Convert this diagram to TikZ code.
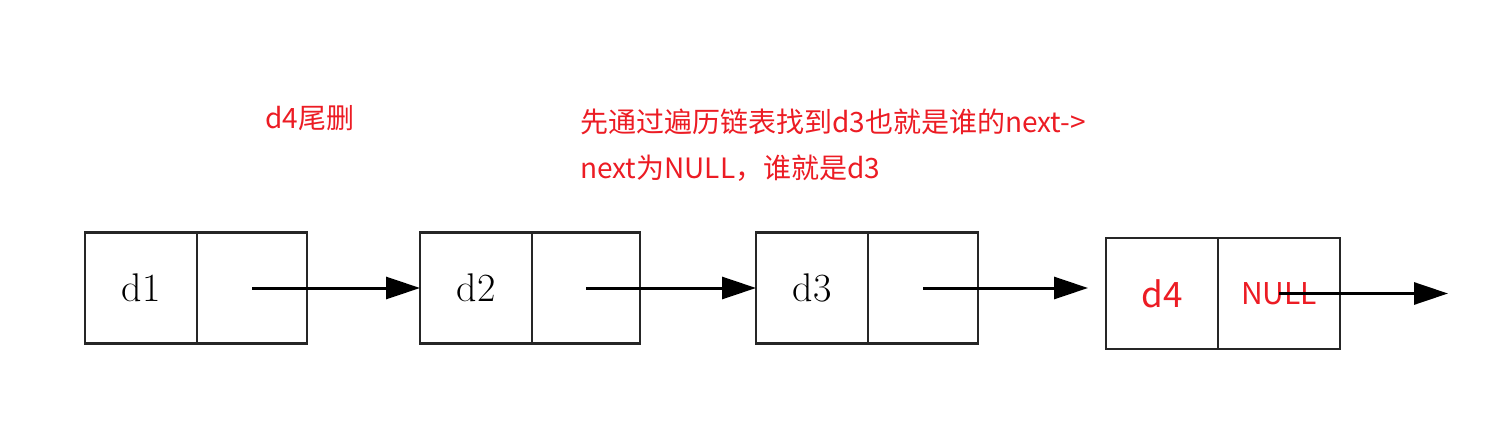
\documentclass[tikz,border=0pt]{standalone}
\usepackage{fontspec}
\newfontfamily\cjk{Noto Sans CJK SC}
\usetikzlibrary{arrows.meta,positioning}
\definecolor{notered}{RGB}{236,28,36}

\begin{document}
\begin{tikzpicture}[x=0.5pt,y=-0.5pt,>={Triangle[length=17pt,width=11pt]},
  field/.style={draw=black!85,line width=1.4pt,minimum height=55.5pt,outer sep=0pt,inner sep=0pt},
  datafield/.style={field,minimum width=56pt,font=\fontsize{20}{24}\selectfont},
  nextfield/.style={field,minimum width=55pt},
  note/.style={text=notered,font=\cjk\fontsize{14}{23}\selectfont,inner sep=0pt,anchor=west,align=left},
  link/.style={->,line width=1.5pt}]
  \useasboundingbox (0,0) rectangle (1498,427);
  % list nodes
  \node[datafield] (d1) at (141,288) {d1};
  \node[nextfield,right=0pt of d1] (n1) {};
  \node[datafield] (d2) at (476,288) {d2};
  \node[nextfield,right=0pt of d2,minimum width=54pt] (n2) {};
  \node[datafield] (d3) at (812,288) {d3};
  \node[nextfield,right=0pt of d3] (n3) {};
  \node[datafield,text=notered,font=\cjk\fontsize{17.5}{20}\selectfont] (d4) at (1162,293.5) {d4};
  \node[nextfield,right=0pt of d4,minimum width=61pt,text=notered,font=\cjk\fontsize{15}{18}\selectfont] (n4) {NULL};
  \coordinate (end3) at (1088,289);
  \coordinate (end4) at (1448,294);
  % links
  \draw[link] (n1.center) -- (n1.center -| d2.west);
  \draw[link] (n2.center) -- (n2.center -| d3.west);
  \draw[link] (n3.center) -- (n3.center -| end3);
  \draw[link] (n4.center) -- (n4.center -| end4);
  % notes
  \node[note] (del) at (265,118) {d4尾删};
  \node[note] (how) at (580,145) {先通过遍历链表找到d3也就是谁的next->\\next为NULL，谁就是d3};
\end{tikzpicture}
\end{document}
